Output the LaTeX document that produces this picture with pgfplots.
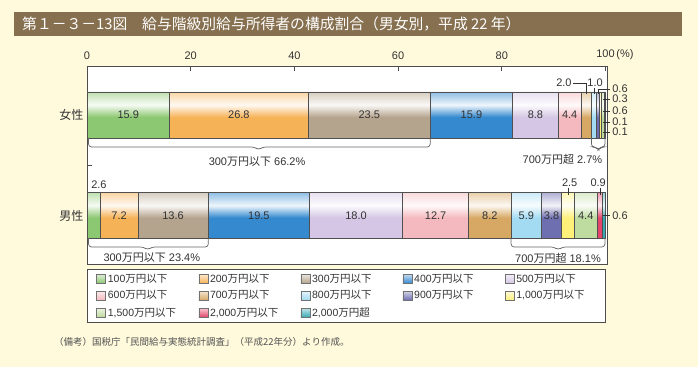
\documentclass[border=0pt]{standalone}
\usepackage{pgfplots}
\pgfplotsset{compat=1.18}
\usepackage{fontspec}
\setmainfont{Liberation Sans}
\newfontfamily\cjk{Noto Sans CJK JP}
\newcommand\J[1]{{\cjk #1}}
\definecolor{bg}{HTML}{FFFADC}
\definecolor{titlebg}{HTML}{86704F}
\definecolor{frame}{HTML}{4D4D4D}
\definecolor{txt}{HTML}{333333}
\definecolor{barline}{HTML}{505050}
\definecolor{c1}{HTML}{8CC771}
\definecolor{c2}{HTML}{F6B257}
\definecolor{c3}{HTML}{B5A48D}
\definecolor{c4}{HTML}{3489CF}
\definecolor{c5}{HTML}{D4C6E4}
\definecolor{c6}{HTML}{F4B9BE}
\definecolor{c7}{HTML}{D7A864}
\definecolor{c8}{HTML}{A3DBF2}
\definecolor{c9}{HTML}{6E6FB0}
\definecolor{c10}{HTML}{FFF07A}
\definecolor{c11}{HTML}{BEDBA0}
\definecolor{c12}{HTML}{E5456B}
\definecolor{c13}{HTML}{37A9B4}
% one shading spanning both bars (male: 25-40.7bp, female: 59.3-75bp)
\newcommand\mksh[1]{\pgfdeclareverticalshading{sh#1}{100bp}{%
 color(0bp)=(c#1); color(25bp)=(c#1); color(32.1bp)=(c#1); color(36.3bp)=(c#1!8!white); color(40.7bp)=(c#1!55!white);
 color(50bp)=(c#1); color(59.3bp)=(c#1); color(66.4bp)=(c#1); color(70.6bp)=(c#1!8!white); color(75bp)=(c#1!55!white); color(100bp)=(c#1!55!white)}}
\mksh{1}\mksh{2}\mksh{3}\mksh{4}\mksh{5}\mksh{6}\mksh{7}\mksh{8}\mksh{9}\mksh{10}\mksh{11}\mksh{12}\mksh{13}
\pgfplotsset{
  seg/.style={shade, shading=sh#1, draw=barline, line width=0.6pt,
    legend image code/.code={\draw[top color=c#1!30!white, bottom color=c#1, draw=frame!80, line width=0.5pt] (0pt,-4.5pt) rectangle (9pt,4.5pt);}},
}
\tikzset{
  lab/.style={font=\fontsize{11}{13}\selectfont, text=txt, inner sep=1pt},
  lead/.style={draw=txt, line width=0.6pt},
  brc/.style={draw=black!60, line width=0.7pt, rounded corners=3pt},
}
\newcommand\annot{%
% in-bar labels
\node[lab] at (axis cs:7.95,149) {15.9};
\node[lab] at (axis cs:29.3,149) {26.8};
\node[lab] at (axis cs:54.45,149) {23.5};
\node[lab] at (axis cs:74.15,149) {15.9};
\node[lab] at (axis cs:86.5,149) {8.8};
\node[lab] at (axis cs:93.1,149) {4.4};
\node[lab] at (axis cs:6.2,48.5) {7.2};
\node[lab] at (axis cs:16.6,48.5) {13.6};
\node[lab] at (axis cs:33.15,48.5) {19.5};
\node[lab] at (axis cs:51.9,48.5) {18.0};
\node[lab] at (axis cs:67.25,48.5) {12.7};
\node[lab] at (axis cs:77.7,48.5) {8.2};
\node[lab] at (axis cs:84.75,48.5) {5.9};
\node[lab] at (axis cs:89.6,48.5) {3.8};
\node[lab] at (axis cs:96.2,48.5) {4.4};
% separator tick on left axis
\draw[frame, line width=0.8pt] (axis cs:0,99) -- ++(5pt,0);
% female leaders
\node[lab, anchor=east] at (axis cs:93.7,181) {2.0};
\draw[lead] (axis cs:93.8,181) -- (axis cs:96.3,181) -- (axis cs:96.3,170);
\node[lab] at (axis cs:98.0,181) {1.0};
\draw[lead] (axis cs:97.8,176) -- (axis cs:97.8,170);
\draw[lead] (axis cs:98.6,170) -- (axis cs:98.6,175) -- (axis cs:100.9,175);
\node[lab, anchor=west] at (axis cs:101.1,175) {0.6};
\draw[lead] (axis cs:99.6,165) -- (axis cs:100.9,165);
\node[lab, anchor=west] at (axis cs:101.1,165) {0.3};
\draw[lead] (axis cs:99.6,153) -- (axis cs:100.9,153);
\node[lab, anchor=west] at (axis cs:101.1,153) {0.6};
\draw[lead] (axis cs:99.6,142) -- (axis cs:100.9,142);
\node[lab, anchor=west] at (axis cs:101.1,142) {0.1};
\draw[lead] (axis cs:99.6,132) -- (axis cs:100.9,132);
\node[lab, anchor=west] at (axis cs:101.1,132) {0.1};
% male leaders
\node[lab, anchor=west] at (axis cs:0.6,79) {2.6};
\node[lab] at (axis cs:93.1,81) {2.5};
\draw[lead] (axis cs:92.75,76) -- (axis cs:92.75,69);
\node[lab] at (axis cs:98.6,81) {0.9};
\draw[lead] (axis cs:99.0,76) -- (axis cs:99.0,69);
\draw[lead] (axis cs:99.6,48.5) -- (axis cs:100.9,48.5);
\node[lab, anchor=west] at (axis cs:101.1,48.5) {0.6};
% braces
\draw[brc] (axis cs:0.3,126) -- (axis cs:0.3,117) -- (axis cs:32.3,117) -- (axis cs:33.1,114) -- (axis cs:33.9,117) -- (axis cs:66.2,117) -- (axis cs:66.2,126);
\node[lab] at (axis cs:32.8,102) {300\J{万円以下} 66.2\%};
\draw[brc] (axis cs:97.3,126) -- (axis cs:97.3,117) -- (axis cs:98.1,117) -- (axis cs:98.65,114) -- (axis cs:99.2,117) -- (axis cs:99.9,117) -- (axis cs:99.9,126);
\node[lab, anchor=east] at (axis cs:99.6,105) {700\J{万円超} 2.7\%};
\draw[brc] (axis cs:0.3,26) -- (axis cs:0.3,17) -- (axis cs:10.9,17) -- (axis cs:11.7,14) -- (axis cs:12.5,17) -- (axis cs:23.4,17) -- (axis cs:23.4,26);
\node[lab] at (axis cs:12.5,6) {300\J{万円以下} 23.4\%};
\draw[brc] (axis cs:81.8,26) -- (axis cs:81.8,17) -- (axis cs:90.1,17) -- (axis cs:90.9,14) -- (axis cs:91.7,17) -- (axis cs:99.9,17) -- (axis cs:99.9,26);
\node[lab] at (axis cs:90.85,6) {700\J{万円超} 18.1\%};
}
\begin{document}
\begin{tikzpicture}[x=1pt,y=1pt]
\fill[bg] (0,0) rectangle (698,367);
\fill[titlebg] (14,331) rectangle (682,355);
\node[anchor=west, text=white, font=\cjk\fontsize{14.8}{16}\selectfont, inner sep=0pt] at (22,343) {第１－３－13図　給与階級別給与所得者の構成割合（男女別，平成 22 年）};
\begin{axis}[
  at={(87pt,103pt)}, anchor=south west,
  scale only axis, width=520pt, height=198pt,
  xmin=0, xmax=100.3, ymin=0, ymax=198,
  clip=false,
  xbar stacked, bar width=46pt,
  axis background/.style={fill=white},
  axis line style={draw=frame, line width=0.8pt},
  xtick={0,20,40,60,80,100},
  xticklabels={0,20,40,60,80,100\rlap{\,(\%)}},
  xtick pos=upper, xticklabel pos=upper,
  ytick={48.5,149}, yticklabels={\J{男性},\J{女性}},
  ytick pos=left,
  tick align=inside, major tick length=5pt,
  tick style={draw=frame, line width=0.8pt},
  ytick style={draw=none},
  /pgf/number format/assume math mode=true,
  tick label style={text=txt, font=\fontsize{11}{13}\selectfont},
  y tick label style={font=\cjk\fontsize{12}{14}\selectfont},
  x tick label style={yshift=3pt},
  legend columns=5,
  legend cell align=left,
  legend style={at={(0,0)}, anchor=north west, yshift=-5pt, draw=frame, line width=0.8pt, fill=white,
    font=\fontsize{10.5}{12}\selectfont, text=txt, inner xsep=9pt, inner ysep=2.5pt, row sep=3pt,
    /tikz/every even column/.append style={column sep=0pt}},
  after end axis/.code={\annot},
]
\addplot[seg=1] coordinates {(15.9,149) (2.6,48.5)};
\addlegendentry{\makebox[88.6pt][l]{100\J{万円以下}}}
\addplot[seg=2] coordinates {(26.8,149) (7.2,48.5)};
\addlegendentry{\makebox[88.6pt][l]{200\J{万円以下}}}
\addplot[seg=3] coordinates {(23.5,149) (13.6,48.5)};
\addlegendentry{\makebox[88.6pt][l]{300\J{万円以下}}}
\addplot[seg=4] coordinates {(15.9,149) (19.5,48.5)};
\addlegendentry{\makebox[88.6pt][l]{400\J{万円以下}}}
\addplot[seg=5] coordinates {(8.8,149) (18.0,48.5)};
\addlegendentry{\makebox[78pt][l]{500\J{万円以下}}}
\addplot[seg=6] coordinates {(4.4,149) (12.7,48.5)};
\addlegendentry{600\J{万円以下}}
\addplot[seg=7] coordinates {(2.0,149) (8.2,48.5)};
\addlegendentry{700\J{万円以下}}
\addplot[seg=8] coordinates {(1.0,149) (5.9,48.5)};
\addlegendentry{800\J{万円以下}}
\addplot[seg=9] coordinates {(0.6,149) (3.8,48.5)};
\addlegendentry{900\J{万円以下}}
\addplot[seg=10] coordinates {(0.3,149) (2.5,48.5)};
\addlegendentry{1,000\J{万円以下}}
\addplot[seg=11] coordinates {(0.6,149) (4.4,48.5)};
\addlegendentry{1,500\J{万円以下}}
\addplot[seg=12] coordinates {(0.1,149) (0.9,48.5)};
\addlegendentry{2,000\J{万円以下}}
\addplot[seg=13] coordinates {(0.1,149) (0.6,48.5)};
\addlegendentry{2,000\J{万円超}}
\end{axis}
\node[anchor=west, text=txt!85, font=\cjk\fontsize{9.5}{11}\selectfont, inner sep=0pt] at (54,25) {（備考）国税庁「民間給与実態統計調査」（平成22年分）より作成。};
\pgfresetboundingbox
\path (0,0) rectangle (698,367);
\end{tikzpicture}
\end{document}
